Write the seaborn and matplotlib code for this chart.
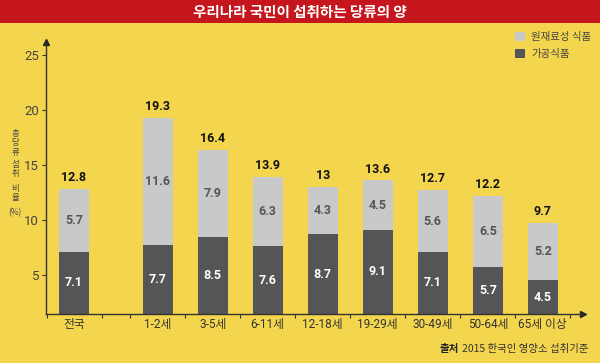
import matplotlib
matplotlib.use("Agg")
import matplotlib.pyplot as plt
from matplotlib.patches import Rectangle, Patch
import seaborn as sns
import pandas as pd

categories = ["전국", "1-2세", "3-5세", "6-11세", "12-18세", "19-29세", "30-49세", "50-64세", "65세 이상"]
processed = [7.1, 7.7, 8.5, 7.6, 8.7, 9.1, 7.1, 5.7, 4.5]
raw = [5.7, 11.6, 7.9, 6.3, 4.3, 4.5, 5.6, 6.5, 5.2]
totals = [12.8, 19.3, 16.4, 13.9, 13, 13.6, 12.7, 12.2, 9.7]
total_labels = ["12.8", "19.3", "16.4", "13.9", "13", "13.6", "12.7", "12.2", "9.7"]
yticks = [5, 10, 15, 20, 25]

sns.set_theme(style="white")
plt.rcParams["font.family"] = ["Roboto", "Noto Sans CJK KR", "DejaVu Sans"]
KR = ["Noto Sans CJK KR", "DejaVu Sans"]
NUM = ["Roboto", "DejaVu Sans"]

BG = "#f4d54e"
LIGHT = "#c9c9c9"
DARK = "#555557"
RED = "#c4161c"

positions = [0.0] + [1.52 + i for i in range(len(categories) - 1)]
df = pd.DataFrame({"pos": positions, "cat": categories, "proc": processed,
                   "raw": raw, "total": totals})

fig = plt.figure(figsize=(6, 3.63), dpi=100, facecolor=BG)
ax = fig.add_axes([46 / 600, 1 - 314 / 363, (583 - 46) / 600, (314 - 42) / 363])
ax.set_facecolor(BG)

sns.barplot(data=df, x="pos", y="total", native_scale=True, color=LIGHT,
            saturation=1, width=0.55, ax=ax, linewidth=0)
sns.barplot(data=df, x="pos", y="proc", native_scale=True, color=DARK,
            saturation=1, width=0.55, ax=ax, linewidth=0)

ymin, ymax = 1.45, 26.2
ax.set_ylim(ymin, ymax)
ax.set_xlim(-0.51, 9.25)

for p, pr, rw, tot, tl in zip(positions, processed, raw, totals, total_labels):
    ax.text(p, (ymin + pr) / 2, f"{pr}", ha="center", va="center", color="white",
            fontsize=9, fontweight="bold", family=NUM)
    ax.text(p, pr + rw / 2, f"{rw}", ha="center", va="center", color="#555555",
            fontsize=9, fontweight="bold", family=NUM)
    ax.text(p, tot + 0.45, tl, ha="center", va="bottom", color="#111111",
            fontsize=9, fontweight="bold", family=NUM)

for s in ["top", "right"]:
    ax.spines[s].set_visible(False)
for s in ["left", "bottom"]:
    ax.spines[s].set_color("#333333")
    ax.spines[s].set_linewidth(1)

ax.set_yticks(yticks)
ax.set_yticklabels([str(v) for v in yticks], color="#444444", fontsize=9.5, family=NUM)
ax.tick_params(axis="y", direction="out", length=3, width=0.8, color="#333333", pad=2, left=True)

ax.set_xticks(positions)
ax.set_xticklabels(categories, color="#333333", fontsize=8.5)
for t in ax.get_xticklabels():
    t.set_family(["Roboto", "Noto Sans CJK KR"])
ax.tick_params(axis="x", length=0, pad=3)
minor = sorted(set([p - 0.5 for p in positions] + [p + 0.5 for p in positions]))
ax.set_xticks(minor, minor=True)
ax.tick_params(axis="x", which="minor", direction="out", length=3, width=0.8,
               color="#333333", bottom=True)
ax.set_xlabel("")
ax.set_ylabel("")

# arrows at axis ends
ax.plot(1, 0, ">", transform=ax.transAxes, clip_on=False, color="#222222", markersize=5)
ax.plot(0, 1, "^", transform=ax.transAxes, clip_on=False, color="#222222", markersize=5)

# y label: stacked upright characters
ylab = [("총", 134), ("당", 143), ("류", 152), ("섭", 164), ("취", 173),
        ("비", 188), ("율", 197), ("(%)", 213)]
for ch, yy in ylab:
    fig.text(15 / 600, 1 - yy / 363, ch, ha="center", va="center", fontsize=6,
             color="#444444", family=KR)

# title bar
fig.patches.append(Rectangle((0, 1 - 23 / 363), 1, 23 / 363, transform=fig.transFigure,
                             facecolor=RED, edgecolor="none", zorder=0))
fig.text(0.5, 1 - 11.5 / 363, "우리나라 국민이 섭취하는 당류의 양", ha="center", va="center",
         color="white", fontsize=10.5, fontweight="bold", family=KR)

# legend
handles = [Patch(facecolor=LIGHT, edgecolor="none"), Patch(facecolor=DARK, edgecolor="none")]
fig.legend(handles, ["원재료성 식품", "가공식품"], loc="upper left",
           bbox_to_anchor=(515 / 600, 1 - 32 / 363), frameon=False,
           prop={"family": KR, "size": 7.5},
           handlelength=0.95, handleheight=0.95, handletextpad=0.6, borderaxespad=0,
           borderpad=0, labelspacing=0.7, labelcolor="#444444")

# source
src = fig.text(588 / 600, 1 - 349 / 363, "2015 한국인 영양소 섭취기준", ha="right", va="center",
               fontsize=7.5, color="#333333", family=KR)
fig.canvas.draw()
bb = src.get_window_extent()
fig.text((bb.x0 - 3) / 600, 1 - 349 / 363, "출처", ha="right", va="center", fontsize=7.5,
         fontweight="bold", color="#222222", family=KR)

fig.savefig("out.png", dpi=100, facecolor=BG)
